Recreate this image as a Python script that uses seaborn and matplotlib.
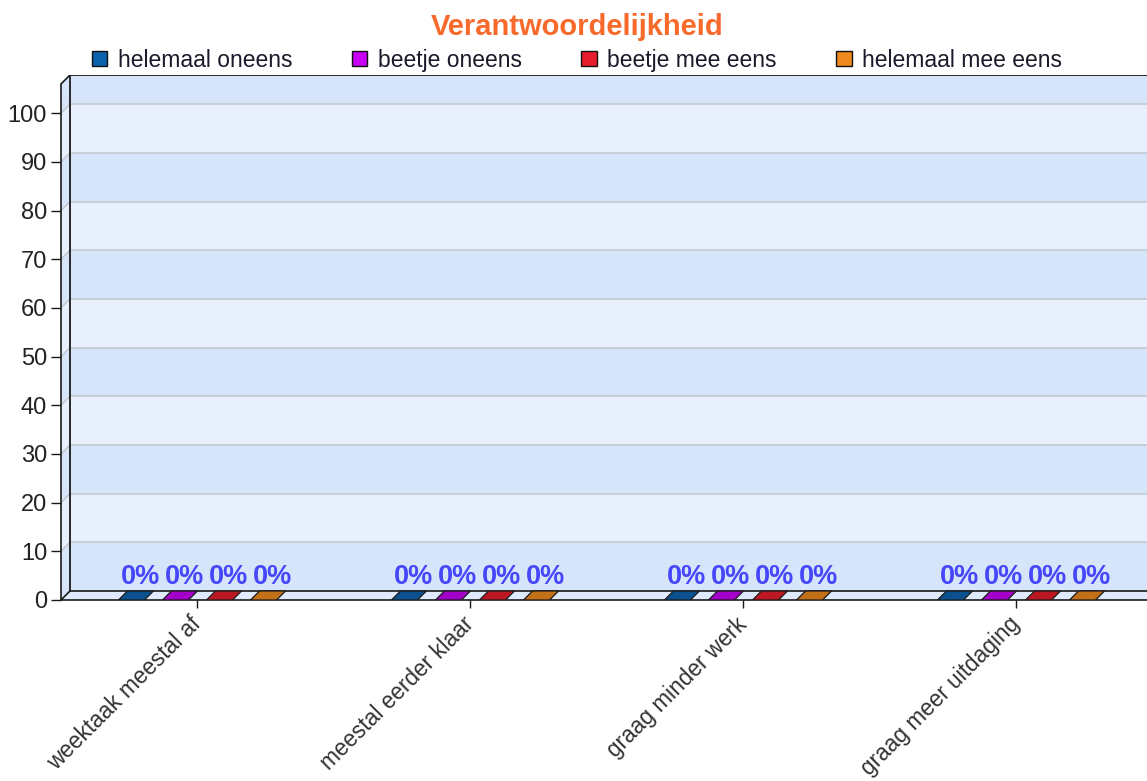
import numpy as np
import pandas as pd
import matplotlib
matplotlib.use('Agg')
import matplotlib.pyplot as plt
from matplotlib.patches import Polygon
import seaborn as sns

# data
categorieen = ['weektaak meestal af', 'meestal eerder klaar',
               'graag minder werk', 'graag meer uitdaging']
antwoorden = ['helemaal oneens', 'beetje oneens', 'beetje mee eens', 'helemaal mee eens']
helemaal_oneens = [0, 0, 0, 0]
beetje_oneens = [0, 0, 0, 0]
beetje_mee_eens = [0, 0, 0, 0]
helemaal_mee_eens = [0, 0, 0, 0]
y_ticks = list(range(0, 101, 10))
kleuren = ['#0d62ae', '#c800f5', '#e51d2c', '#ee8a1f']

df = pd.DataFrame({
    'categorie': categorieen * 4,
    'antwoord': np.repeat(antwoorden, len(categorieen)),
    'procent': helemaal_oneens + beetje_oneens + beetje_mee_eens + helemaal_mee_eens,
})

sns.set_style('white')
plt.rcParams['font.family'] = ['Liberation Sans', 'DejaVu Sans']

fig = plt.figure(figsize=(11.47, 7.81), dpi=100)
ax = fig.add_axes([61 / 1147, 181 / 781, 1 - 61 / 1147, 525 / 781])

# 3d look: back wall is shifted by DX, DY in data units
DX, DY, TOP = 9 / 273, 9 / 4.867, 106
X0, X1 = -0.5, 3.5
DONKER, LICHT = '#d7e5fb', '#e8f0fd'
RAND = '#1a1a1a'

sns.barplot(data=df, x='categorie', y='procent', hue='antwoord',
            hue_order=antwoorden, order=categorieen, palette=kleuren, saturation=1,
            width=0.645, gap=0.41, errorbar=None, ax=ax, zorder=3)

# back wall + side wall bands
grenzen = y_ticks + [TOP]
for i in range(len(grenzen) - 1):
    lo, hi = grenzen[i], grenzen[i + 1]
    kleur = DONKER if i % 2 == 0 else LICHT
    ax.add_patch(Polygon([(X0 + DX, lo + DY), (X1 + DX + 1, lo + DY),
                          (X1 + DX + 1, hi + DY), (X0 + DX, hi + DY)],
                         closed=True, facecolor=kleur, edgecolor='none', zorder=0))
    ax.add_patch(Polygon([(X0, lo), (X0 + DX, lo + DY), (X0 + DX, hi + DY), (X0, hi)],
                         closed=True, facecolor=kleur, edgecolor='none', zorder=0))

# floor
ax.add_patch(Polygon([(X0, 0), (X1 + 1, 0), (X1 + 1 + DX, DY), (X0 + DX, DY)],
                     closed=True, facecolor='#dfeafc', edgecolor='none', zorder=1))

# gridlines
for v in y_ticks[1:]:
    ax.plot([X0 + DX, X1 + 1], [v + DY, v + DY], color='#c3c6cc', lw=1.1, zorder=1)
    ax.plot([X0, X0 + DX], [v, v + DY], color='#c3c6cc', lw=1.1, zorder=1)

# frame lines
ax.plot([X0 + DX, X0 + DX, X1 + 1], [DY, TOP + DY, TOP + DY], color=RAND, lw=1.3, zorder=2)
ax.plot([X0 + DX, X1 + 1], [DY, DY], color=RAND, lw=1.2, zorder=2)
ax.plot([X0, X0 + DX], [TOP, TOP + DY], color=RAND, lw=1.2, zorder=2)
ax.plot([X0, X0 + DX], [0, DY], color=RAND, lw=1.2, zorder=2)

# bar tops (values are 0, so only the top face shows) + labels
for container, waarden in zip(ax.containers,
                              [helemaal_oneens, beetje_oneens, beetje_mee_eens, helemaal_mee_eens]):
    for bar, v in zip(container, waarden):
        x, w, h = bar.get_x(), bar.get_width(), bar.get_height()
        fc = np.array(matplotlib.colors.to_rgb(bar.get_facecolor())) * 0.82
        ax.add_patch(Polygon([(x, h), (x + w, h), (x + w + DX, h + DY), (x + DX, h + DY)],
                             closed=True, facecolor=fc, edgecolor=RAND, lw=0.9, zorder=4))
        ax.text(x + w / 2 + DX, h + 3.3, f'{v:.0f}%', ha='center', va='baseline',
                fontsize=19.5, fontweight='bold', color='#4646fa', zorder=5)

ax.set_xlim(X0, X0 + 1086 / 273)
ax.set_ylim(0, TOP + DY)
ax.set_xlabel('')
ax.set_ylabel('')
ax.set_yticks(y_ticks)
ax.set_xticks(range(len(categorieen)))
ax.set_xticklabels(categorieen, rotation=45, ha='right', va='center',
                   rotation_mode='anchor', fontsize=16.3, color='#333333')
ax.tick_params(axis='x', length=6, width=1, color=RAND, pad=9, bottom=True)
ax.tick_params(axis='y', length=7, width=1, color=RAND, pad=3, left=True,
               labelsize=17, labelcolor='#222222')

for s in ['top', 'right']:
    ax.spines[s].set_visible(False)
ax.spines['left'].set_bounds(0, TOP)
ax.spines['left'].set_color(RAND)
ax.spines['left'].set_linewidth(1.2)
ax.spines['bottom'].set_color(RAND)
ax.spines['bottom'].set_linewidth(1.2)
ax.spines['bottom'].set_zorder(2)

leg = ax.get_legend()
handles = leg.legend_handles
leg.remove()
for hnd in handles:
    hnd.set_edgecolor('#111111')
    hnd.set_linewidth(1.0)
fig.legend(handles, antwoorden, loc='center', bbox_to_anchor=(0.503, 0.923), ncol=4,
           frameon=False, fontsize=16.5, handlelength=0.68, handleheight=0.68,
           handletextpad=0.45, columnspacing=2.6, labelcolor='#1a1a2a')

fig.text(0.503, 1 - 27 / 781, 'Verantwoordelijkheid', ha='center', va='center',
         fontsize=21, fontweight='bold', color='#f86a2c')

fig.savefig('out.png', dpi=100)
